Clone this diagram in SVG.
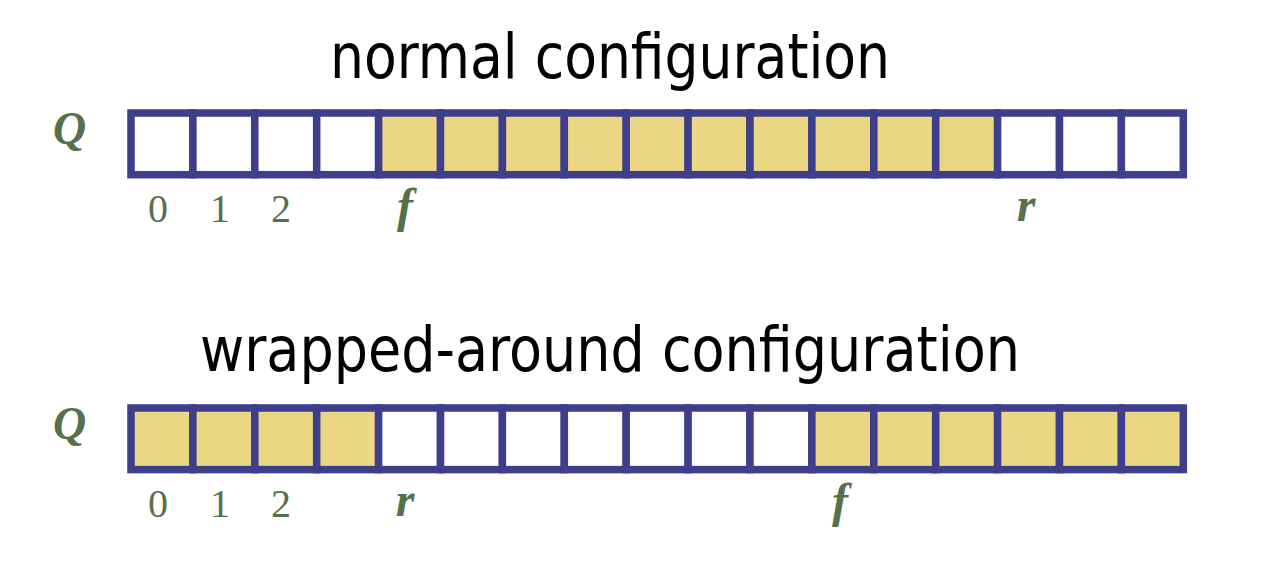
<svg xmlns="http://www.w3.org/2000/svg" width="1280" height="575" viewBox="0 0 1280 575">
<style>
.title{font-family:"DejaVu Sans",Verdana,sans-serif;font-size:62px;fill:#000}
.lbl{font-family:"Liberation Serif","Times New Roman",serif;fill:#56714a}
.q{font-size:46px;font-style:italic;font-weight:bold}
.num{font-size:40px;text-anchor:middle}
.ptr{font-size:48px;font-style:italic;font-weight:bold;text-anchor:middle}
.e{fill:#ffffff;stroke:#3e3f8b;stroke-width:7.5}
.u{fill:#ebd684;stroke:#3e3f8b;stroke-width:7.5}
</style>
<g id="title-normal"><text class="title" x="330" y="78" textLength="560" lengthAdjust="spacingAndGlyphs">normal configuration</text></g>
<g id="array-normal">
<text class="lbl q" x="53" y="144">Q</text>
<rect class="e" x="131" y="113" width="61.9" height="61.7"/>
<rect class="e" x="192.9" y="113" width="61.9" height="61.7"/>
<rect class="e" x="254.8" y="113" width="61.9" height="61.7"/>
<rect class="e" x="316.7" y="113" width="61.9" height="61.7"/>
<rect class="u" x="378.6" y="113" width="61.9" height="61.7"/>
<rect class="u" x="440.5" y="113" width="61.9" height="61.7"/>
<rect class="u" x="502.4" y="113" width="61.9" height="61.7"/>
<rect class="u" x="564.3" y="113" width="61.9" height="61.7"/>
<rect class="u" x="626.2" y="113" width="61.9" height="61.7"/>
<rect class="u" x="688.1" y="113" width="61.9" height="61.7"/>
<rect class="u" x="750" y="113" width="61.9" height="61.7"/>
<rect class="u" x="811.9" y="113" width="61.9" height="61.7"/>
<rect class="u" x="873.8" y="113" width="61.9" height="61.7"/>
<rect class="u" x="935.7" y="113" width="61.9" height="61.7"/>
<rect class="e" x="997.6" y="113" width="61.9" height="61.7"/>
<rect class="e" x="1059.5" y="113" width="61.9" height="61.7"/>
<rect class="e" x="1121.4" y="113" width="61.9" height="61.7"/>
<text class="lbl num" x="158" y="222">0</text>
<text class="lbl num" x="220" y="222">1</text>
<text class="lbl num" x="281" y="222">2</text>
<text class="lbl ptr" x="405" y="222">f</text>
<text class="lbl ptr" x="1026" y="221">r</text>
</g>
<g id="title-wrapped"><text class="title" x="200" y="371" textLength="820" lengthAdjust="spacingAndGlyphs">wrapped-around configuration</text></g>
<g id="array-wrapped">
<text class="lbl q" x="53" y="439">Q</text>
<rect class="u" x="131" y="408" width="61.9" height="61.6"/>
<rect class="u" x="192.9" y="408" width="61.9" height="61.6"/>
<rect class="u" x="254.8" y="408" width="61.9" height="61.6"/>
<rect class="u" x="316.7" y="408" width="61.9" height="61.6"/>
<rect class="e" x="378.6" y="408" width="61.9" height="61.6"/>
<rect class="e" x="440.5" y="408" width="61.9" height="61.6"/>
<rect class="e" x="502.4" y="408" width="61.9" height="61.6"/>
<rect class="e" x="564.3" y="408" width="61.9" height="61.6"/>
<rect class="e" x="626.2" y="408" width="61.9" height="61.6"/>
<rect class="e" x="688.1" y="408" width="61.9" height="61.6"/>
<rect class="e" x="750" y="408" width="61.9" height="61.6"/>
<rect class="u" x="811.9" y="408" width="61.9" height="61.6"/>
<rect class="u" x="873.8" y="408" width="61.9" height="61.6"/>
<rect class="u" x="935.7" y="408" width="61.9" height="61.6"/>
<rect class="u" x="997.6" y="408" width="61.9" height="61.6"/>
<rect class="u" x="1059.5" y="408" width="61.9" height="61.6"/>
<rect class="u" x="1121.4" y="408" width="61.9" height="61.6"/>
<text class="lbl num" x="158" y="517">0</text>
<text class="lbl num" x="220" y="517">1</text>
<text class="lbl num" x="281" y="517">2</text>
<text class="lbl ptr" x="405" y="516">r</text>
<text class="lbl ptr" x="840" y="517">f</text>
</g>
</svg>
